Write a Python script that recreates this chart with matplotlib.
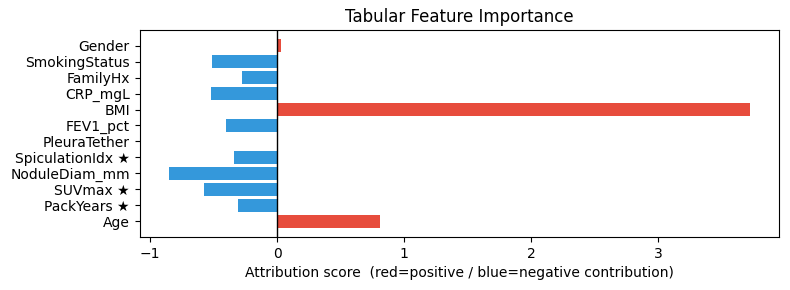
import matplotlib
matplotlib.use("Agg")
import matplotlib.pyplot as plt

features = ["Age", "PackYears ★", "SUVmax ★", "NoduleDiam_mm", "SpiculationIdx ★",
            "PleuraTether", "FEV1_pct", "BMI", "CRP_mgL", "FamilyHx",
            "SmokingStatus", "Gender"]
scores = [0.81, -0.305, -0.58, -0.855, -0.34, 0.0, -0.40, 3.72, -0.52, -0.28, -0.51, 0.03]

colors = ["#e74c3c" if s > 0 else "#3498db" for s in scores]

fig, ax = plt.subplots(figsize=(7.9, 2.9), dpi=100)
ax.barh(features, scores, color=colors)
ax.axvline(0, color="black", linewidth=1)
ax.set_title("Tabular Feature Importance")
ax.set_xlabel("Attribution score  (red=positive / blue=negative contribution)")
fig.subplots_adjust(left=0.1766, right=0.986, top=0.8966, bottom=0.183)
fig.savefig("out.png", dpi=100)
